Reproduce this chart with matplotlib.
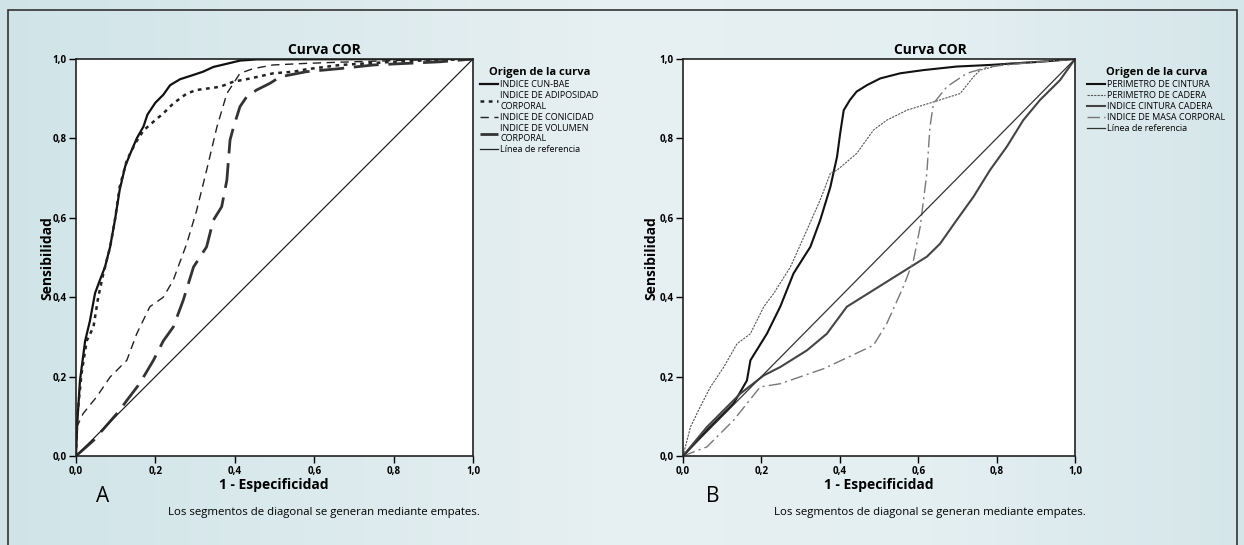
import numpy as np
import matplotlib
matplotlib.use("Agg")
import matplotlib.pyplot as plt
from matplotlib.colors import LinearSegmentedColormap
from matplotlib.lines import Line2D
from matplotlib.patches import Rectangle

plt.rcParams['font.family'] = ['Open Sans', 'DejaVu Sans']

# Panel A curves (1 - especificidad, sensibilidad)
cun_x = [0, 0.003, 0.01, 0.023, 0.035, 0.048, 0.059, 0.073, 0.086, 0.098, 0.11, 0.124, 0.136, 0.153, 0.17, 0.18, 0.2, 0.22, 0.237, 0.262, 0.296, 0.32, 0.346, 0.38, 0.413, 0.455, 1.0]
cun_y = [0, 0.08, 0.19, 0.29, 0.34, 0.41, 0.44, 0.476, 0.527, 0.594, 0.67, 0.73, 0.76, 0.80, 0.83, 0.86, 0.89, 0.91, 0.934, 0.949, 0.96, 0.968, 0.98, 0.988, 0.996, 0.999, 1.0]

adip_x = [0, 0.003, 0.014, 0.027, 0.044, 0.056, 0.069, 0.086, 0.098, 0.11, 0.128, 0.149, 0.17, 0.195, 0.22, 0.245, 0.279, 0.304, 0.363, 0.397, 0.439, 0.497, 0.548, 0.58, 0.666, 0.75, 0.834, 1.0]
adip_y = [0, 0.098, 0.208, 0.29, 0.325, 0.40, 0.46, 0.527, 0.594, 0.678, 0.745, 0.787, 0.82, 0.842, 0.863, 0.888, 0.913, 0.922, 0.93, 0.943, 0.951, 0.964, 0.968, 0.974, 0.985, 0.99, 0.995, 1.0]

conic_x = [0, 0.002, 0.018, 0.052, 0.086, 0.128, 0.153, 0.186, 0.22, 0.245, 0.279, 0.304, 0.329, 0.355, 0.38, 0.413, 0.447, 0.497, 0.58, 0.666, 0.834, 1.0]
conic_y = [0, 0.073, 0.107, 0.149, 0.199, 0.241, 0.308, 0.376, 0.40, 0.443, 0.535, 0.619, 0.72, 0.829, 0.913, 0.964, 0.976, 0.985, 0.989, 0.992, 0.997, 1.0]

vol_x = [0, 0.044, 0.11, 0.128, 0.16, 0.195, 0.22, 0.245, 0.27, 0.296, 0.329, 0.346, 0.367, 0.38, 0.388, 0.397, 0.413, 0.43, 0.455, 0.489, 0.514, 0.58, 0.666, 0.75, 0.834, 0.918, 1.0]
vol_y = [0, 0.039, 0.115, 0.14, 0.182, 0.241, 0.29, 0.325, 0.392, 0.476, 0.527, 0.594, 0.628, 0.695, 0.796, 0.829, 0.88, 0.905, 0.922, 0.939, 0.955, 0.968, 0.976, 0.985, 0.989, 0.993, 1.0]

# Panel B curves
cint_x = [0, 0.061, 0.129, 0.163, 0.172, 0.214, 0.248, 0.282, 0.325, 0.35, 0.376, 0.393, 0.401, 0.41, 0.426, 0.443, 0.469, 0.503, 0.554, 0.613, 0.698, 0.783, 0.911, 1.0]
cint_y = [0, 0.065, 0.132, 0.19, 0.241, 0.308, 0.376, 0.46, 0.527, 0.594, 0.678, 0.754, 0.813, 0.871, 0.897, 0.918, 0.934, 0.951, 0.964, 0.972, 0.981, 0.985, 0.993, 1.0]

cad_x = [0, 0.019, 0.044, 0.07, 0.104, 0.138, 0.172, 0.206, 0.231, 0.274, 0.316, 0.35, 0.376, 0.393, 0.443, 0.486, 0.52, 0.571, 0.656, 0.707, 0.741, 0.758, 0.826, 1.0]
cad_y = [0, 0.073, 0.124, 0.174, 0.224, 0.283, 0.308, 0.376, 0.409, 0.476, 0.569, 0.645, 0.712, 0.72, 0.762, 0.821, 0.846, 0.871, 0.897, 0.913, 0.955, 0.972, 0.989, 1.0]

icc_x = [0, 0.061, 0.146, 0.206, 0.248, 0.316, 0.367, 0.418, 0.486, 0.554, 0.622, 0.656, 0.698, 0.741, 0.783, 0.826, 0.868, 0.911, 0.962, 1.0]
icc_y = [0, 0.073, 0.157, 0.203, 0.224, 0.266, 0.308, 0.376, 0.418, 0.46, 0.502, 0.535, 0.594, 0.653, 0.72, 0.779, 0.846, 0.897, 0.947, 1.0]

imc_x = [0, 0.061, 0.129, 0.197, 0.248, 0.359, 0.486, 0.52, 0.562, 0.588, 0.605, 0.622, 0.63, 0.639, 0.673, 0.724, 0.783, 0.868, 1.0]
imc_y = [0, 0.023, 0.09, 0.174, 0.182, 0.22, 0.279, 0.334, 0.426, 0.493, 0.577, 0.712, 0.829, 0.888, 0.93, 0.964, 0.981, 0.989, 1.0]

ref = [0, 1]

labels_a = ['INDICE CUN-BAE', 'INDICE DE ADIPOSIDAD\nCORPORAL', 'INDICE DE CONICIDAD',
            'INDICE DE VOLUMEN\nCORPORAL', 'Línea de referencia']
labels_b = ['PERIMETRO DE CINTURA', 'PERIMETRO DE CADERA', 'INDICE CINTURA CADERA',
            'INDICE DE MASA CORPORAL', 'Línea de referencia']
ticks = [0, 0.2, 0.4, 0.6, 0.8, 1.0]
tick_labels = ['0,0', '0,2', '0,4', '0,6', '0,8', '1,0']

W, H = 1244, 545
fig = plt.figure(figsize=(W / 100, H / 100), dpi=100)


def fx(x):
    return x / W


def fy(y):
    return 1 - y / H


# fondo con degradado
bg = fig.add_axes([0, 0, 1, 1], zorder=-10)
cmap = LinearSegmentedColormap.from_list('bg', [(0, '#d0e4e8'), (0.5, '#e7f0f2'), (0.75, '#e4eff1'), (1, '#d5e6ea')])
grad = np.linspace(0, 1, 256).reshape(1, -1)
bg.imshow(grad, aspect='auto', cmap=cmap, extent=[0, 1, 0, 1])
bg.add_patch(Rectangle((fx(8), -0.05), fx(1237 - 8), fy(10) + 0.05, fill=False, edgecolor='#333333', lw=1.2))
bg.set_xlim(0, 1)
bg.set_ylim(0, 1)
bg.axis('off')


def setup(ax):
    ax.set_xlim(0, 1)
    ax.set_ylim(0, 1)
    ax.set_facecolor('white')
    ax.set_xticks(ticks)
    ax.set_yticks(ticks)
    ax.set_xticklabels(tick_labels)
    ax.set_yticklabels(tick_labels)
    ax.tick_params(direction='out', length=5, width=1, labelsize=7, pad=2)
    for t in ax.get_xticklabels() + ax.get_yticklabels():
        t.set_fontweight('bold')
    for s in ax.spines.values():
        s.set_linewidth(1.2)
        s.set_color('#222222')


axA = fig.add_axes([fx(76), fy(456), fx(397), 397 / H])
axB = fig.add_axes([fx(683), fy(456), fx(392), 397 / H])
setup(axA)
setup(axB)

# Panel A
axA.plot(cun_x, cun_y, color='#111111', lw=1.6)
axA.plot(adip_x, adip_y, color='#222222', lw=1.8, dashes=(1.5, 1.8))
axA.plot(conic_x, conic_y, color='#222222', lw=1.0, dashes=(6, 4))
axA.plot(vol_x, vol_y, color='#333333', lw=2.0, dashes=(9, 3.5))
axA.plot(ref, ref, color='#222222', lw=0.9)

# Panel B
axB.plot(cint_x, cint_y, color='#111111', lw=1.5)
axB.plot(cad_x, cad_y, color='#555555', lw=0.8, dashes=(2, 1))
axB.plot(icc_x, icc_y, color='#444444', lw=1.5)
axB.plot(imc_x, imc_y, color='#777777', lw=1.0, dashes=(9, 3, 1.5, 3))
axB.plot(ref, ref, color='#333333', lw=0.9)

handles_a = [
    Line2D([], [], color='#111111', lw=1.6),
    Line2D([], [], color='#222222', lw=1.8, dashes=(1.5, 1.8)),
    Line2D([], [], color='#222222', lw=1.0, dashes=(6, 4)),
    Line2D([], [], color='#333333', lw=2.0, dashes=(9, 3.5)),
    Line2D([], [], color='#222222', lw=0.9),
]
handles_b = [
    Line2D([], [], color='#111111', lw=1.5),
    Line2D([], [], color='#555555', lw=0.8, dashes=(2, 1)),
    Line2D([], [], color='#444444', lw=1.5),
    Line2D([], [], color='#777777', lw=1.0, dashes=(9, 3, 1.5, 3)),
    Line2D([], [], color='#333333', lw=0.9),
]

for handles, labels, x0 in [(handles_a, labels_a, 474), (handles_b, labels_b, 1081)]:
    fig.legend(handles, labels, loc='upper left', bbox_to_anchor=(fx(x0), fy(61)),
               frameon=False, fontsize=6.5, title='Origen de la curva',
               title_fontproperties={'weight': 'bold', 'size': 8},
               handlelength=2.0, handletextpad=0.2, labelspacing=0.22,
               borderpad=0.2)

# titulos, etiquetas y notas
for cx, axc, letter_x, letter in [(324, 274, 103, 'A'), (930, 879, 713, 'B')]:
    fig.text(fx(cx), fy(50), 'Curva COR', ha='center', va='center', fontsize=10, fontweight='bold')
    fig.text(fx(axc), fy(485), '1 - Especificidad', ha='center', va='center', fontsize=10, fontweight='bold')
    fig.text(fx(cx), fy(512), 'Los segmentos de diagonal se generan mediante empates.',
             ha='center', va='center', fontsize=8.2)
    fig.text(fx(letter_x), fy(496), letter, ha='center', va='center', fontsize=15)

fig.text(fx(47), fy(258), 'Sensibilidad', ha='center', va='center', rotation=90, fontsize=10, fontweight='bold')
fig.text(fx(651), fy(258), 'Sensibilidad', ha='center', va='center', rotation=90, fontsize=10, fontweight='bold')

fig.savefig('out.png', dpi=100)
